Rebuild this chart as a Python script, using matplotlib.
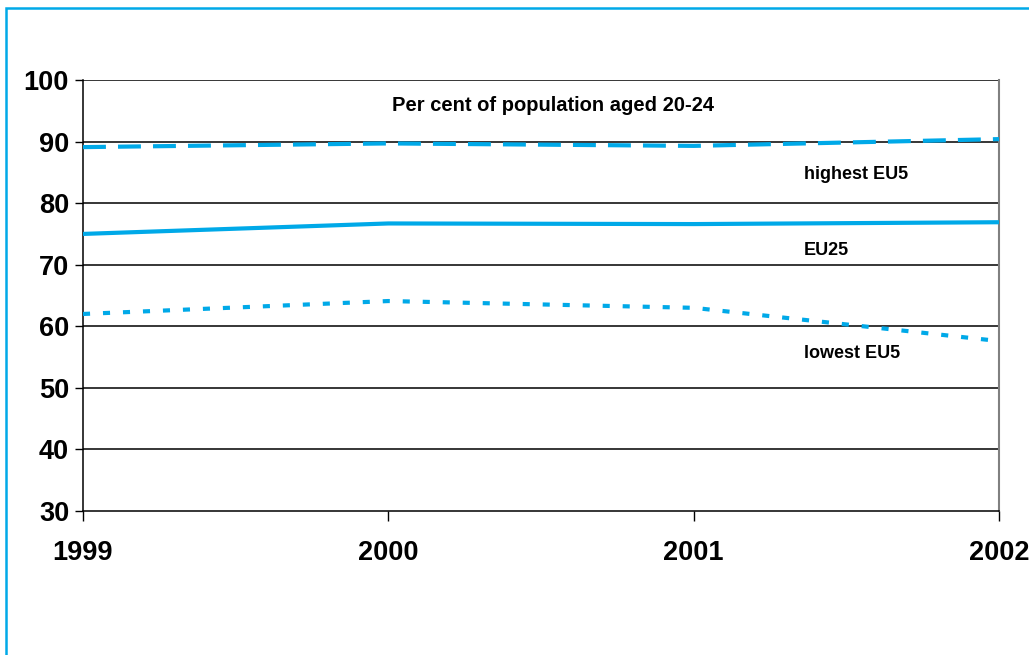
import matplotlib
matplotlib.use('Agg')
from matplotlib import pyplot as plt
from matplotlib.patches import Rectangle

# data
years = [1999, 2000, 2001, 2002]
highest_eu5 = [89.1, 89.7, 89.3, 90.4]
eu25 = [75.0, 76.7, 76.6, 76.9]
lowest_eu5 = [62.0, 64.1, 63.0, 57.6]
y_ticks = [30, 40, 50, 60, 70, 80, 90, 100]

blue = '#00A9E8'

fig = plt.figure(figsize=(10.29, 6.55), dpi=100)
ax = fig.add_axes([83 / 1029, 1 - 511 / 655, (999 - 83) / 1029, (511 - 80) / 655])

# outer light blue frame
fig.patches.append(Rectangle((6 / 1029, -0.1), 1.2, (655 - 8) / 655 + 0.1,
                             transform=fig.transFigure, fill=False,
                             edgecolor=blue, linewidth=1.8))

for y in y_ticks[1:]:
    ax.axhline(y, color='black', linewidth=1.1, zorder=1)

ax.plot(years, highest_eu5, color=blue, linewidth=3, dashes=(5.5, 2.9),
        dash_capstyle='butt', zorder=3)
ax.plot(years, eu25, color=blue, linewidth=3, solid_capstyle='butt', zorder=3)
ax.plot(years, lowest_eu5, color=blue, linewidth=3, dashes=(1.7, 3.1),
        dash_capstyle='butt', zorder=3)

ax.set_xlim(1999, 2002)
ax.set_ylim(30, 100)
ax.set_xticks(years)
ax.set_yticks(y_ticks)

tick_font = {'family': 'Liberation Sans', 'weight': 'bold', 'size': 19.5}
ax.set_xticklabels([str(y) for y in years], fontdict=tick_font)
ax.set_yticklabels([str(y) for y in y_ticks], fontdict=tick_font)
ax.tick_params(axis='y', direction='out', length=6, width=1, pad=4)
ax.tick_params(axis='x', direction='out', length=7, width=1, pad=14)

for side in ['left', 'bottom']:
    ax.spines[side].set_color('black')
    ax.spines[side].set_linewidth(1.1)
ax.spines['top'].set_visible(False)
ax.spines['right'].set_color('#808080')
ax.spines['right'].set_linewidth(1.5)

lab = {'family': 'Liberation Sans', 'weight': 'bold', 'size': 13}
ax.text(2000.54, 95.9, 'Per cent of population aged 20-24', ha='center',
        va='center', fontdict={**lab, 'size': 14.5})
ax.text(2001.36, 84.6, 'highest EU5', ha='left', va='center', fontdict=lab)
ax.text(2001.36, 72.3, 'EU25', ha='left', va='center', fontdict=lab)
ax.text(2001.36, 55.5, 'lowest EU5', ha='left', va='center', fontdict=lab)

fig.savefig('out.png', dpi=100)
